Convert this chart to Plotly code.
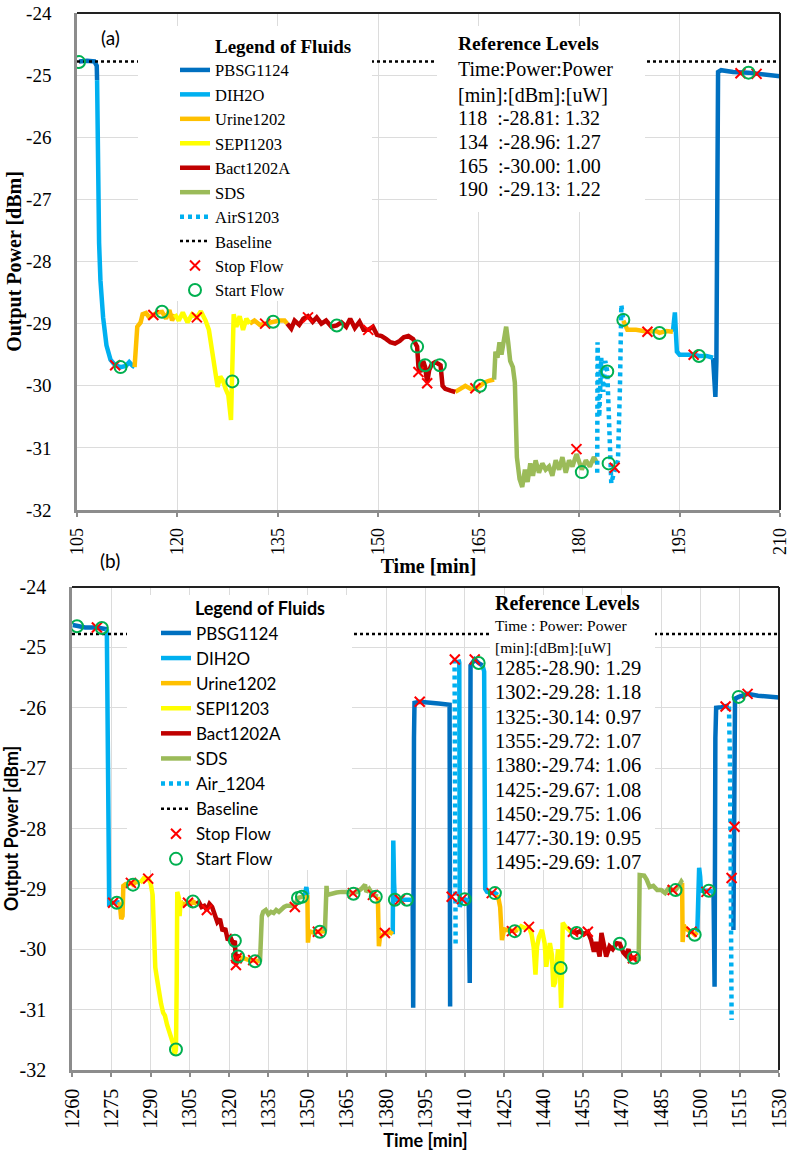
import plotly.graph_objects as go

W, H = 793, 1152


def px(x):
    return x / W


def py(y):
    return 1 - y / H


# ---------------- Panel (a) data : time [min] / output power [dBm] ----------------
a_pbsg_t = [105.3, 106.5, 107.6, 107.95, 108.0, None,
            200.0, 200.2, 200.35, 200.5, 200.6, 200.75, 201.2, 203.0, 205.3, 207.0, 210.0]
a_pbsg_v = [-24.78, -24.77, -24.78, -24.85, -25.08, None,
            -29.55, -29.9, -30.18, -29.6, -27.0, -24.95, -24.92, -24.95, -24.96, -24.98, -25.02]

a_dih2o_t = [108.0, 108.1, 108.3, 108.5, 108.9, 109.4, 110.0, 110.7, 111.5, 112.3, 112.8, 113.3, 113.6, None,
             194.0, 194.3, 194.6, 195.0, 196.0, 197.1, 197.9, 199.0, 200.0]
a_dih2o_v = [-25.08, -26.5, -27.7, -28.3, -28.9, -29.35, -29.58, -29.67, -29.7, -29.68, -29.62, -29.68, -29.7, None,
             -29.13, -28.82, -29.45, -29.5, -29.5, -29.5, -29.52, -29.52, -29.55]

a_urine_t = [113.6, 113.8, 114.0, 114.5, 114.8, 115.3, 115.8, 116.4, 117.0, 117.7, 118.3, 118.8, 119.2, 119.6, None,
             130.8, 131.5, 132.3, 133.1, 134.3, 135.2, 136.0, 136.4, None,
             161.5, 162.2, 163.0, 163.8, 164.5, 165.2, 165.8, 166.5, 167.3, None,
             186.6, 187.2, 188.5, 190.2, 191.5, 192.0, 193.0, 194.0]
a_urine_v = [-29.7, -29.3, -29.05, -28.98, -28.85, -28.83, -28.9, -28.86, -28.82, -28.81, -28.92, -28.78, -28.95, -28.85, None,
             -29.0, -28.95, -29.02, -29.0, -28.97, -28.95, -28.95, -29.0, None,
             -30.1, -30.05, -30.0, -30.05, -30.04, -30.0, -29.95, -29.92, -29.9, None,
             -28.95, -29.1, -29.1, -29.13, -29.12, -29.15, -29.12, -29.13]

a_sepi_t = [119.6, 120.2, 120.8, 121.5, 122.2, 122.9, 123.5, 124.2, 124.7, 125.2, 125.6, 126.0, 126.4, 126.8,
            127.2, 127.6, 128.0, 128.2, 128.4, 128.8, 129.3, 129.8, 130.3, 130.8]
a_sepi_v = [-28.85, -28.95, -28.82, -28.98, -28.85, -28.9, -28.8, -28.95, -29.1, -29.5, -29.75, -30.02, -29.85, -29.92,
            -30.05, -30.15, -30.55, -29.9, -28.85, -29.05, -28.88, -29.1, -28.92, -29.0]

a_bact_t = [136.4, 137.0, 137.5, 138.2, 138.8, 139.5, 140.2, 140.8, 141.5, 142.2, 143.0, 143.8, 144.5, 145.2,
            145.8, 146.5, 147.2, 147.8, 148.5, 149.2, 149.8, 150.5, 151.2, 151.8, 152.5, 153.2, 153.8, 154.5,
            155.2, 155.8, 156.0, 156.3, 156.7, 157.0, 157.3, 157.6, 158.0, 158.5, 159.0, 159.3, 159.6, 160.0,
            160.8, 161.5]
a_bact_v = [-29.0, -29.08, -28.95, -29.02, -28.92, -28.88, -28.97, -28.9, -29.0, -28.95, -29.05, -29.03, -28.98, -29.05,
            -28.92, -29.07, -28.97, -29.1, -29.1, -29.05, -29.18, -29.2, -29.25, -29.3, -29.32, -29.28, -29.22, -29.2,
            -29.25, -29.37, -29.7, -29.78, -29.6, -29.7, -29.95, -29.75, -29.65, -29.62, -29.65, -29.67, -30.0, -30.05,
            -30.08, -30.1]

a_sds_t = [167.3, 167.5, 167.8, 168.1, 168.4, 168.8, 169.1, 169.4, 169.7, 170.1, 170.4, 170.7, 171.1, 171.5,
           171.9, 172.3, 172.7, 173.1, 173.5, 174.0, 174.5, 175.0, 175.5, 176.0, 176.5, 177.0, 177.5, 178.0,
           178.5, 179.0, 179.6, 180.4, 181.0, 181.6, 182.2, 182.7]
a_sds_v = [-29.9, -29.45, -29.55, -29.3, -29.5, -29.25, -29.05, -29.3, -29.6, -29.7, -29.95, -31.15, -31.5, -31.63,
           -31.35, -31.55, -31.25, -31.45, -31.2, -31.4, -31.25, -31.35, -31.3, -31.45, -31.2, -31.35, -31.15, -31.4,
           -31.2, -31.3, -31.1, -31.35, -31.2, -31.3, -31.15, -31.25]

a_air_t = [182.7, 182.75, 183.0, 183.3, 183.6, 183.9, 184.2, 184.5, 184.8, 185.2, 185.8, 186.1, 186.3, 186.6]
a_air_v = [-31.4, -29.3, -30.5, -29.55, -30.1, -29.6, -29.77, -30.8, -31.57, -31.4, -31.2, -30.0, -28.7, -28.94]

a_stop_t = [110.7, 116.4, 122.9, 133.1, 139.5, 148.5, 156.0, 157.3, 164.5, 179.6, 185.3, 190.2, 197.1, 204.1, 206.5]
a_stop_v = [-29.67, -28.86, -28.9, -29.0, -28.9, -29.1, -29.78, -29.96, -30.04, -31.02, -31.32, -29.13, -29.5,
            -24.97, -24.98]
a_start_t = [105.3, 111.5, 117.7, 128.2, 134.3, 143.8, 155.8, 157.0, 159.2, 165.2, 180.4, 184.2, 184.4, 186.6,
             192.0, 197.9, 205.3]
a_start_v = [-24.79, -29.70, -28.81, -29.93, -28.97, -29.03, -29.37, -29.67, -29.67, -30.0, -31.39, -29.77, -31.25,
             -28.94, -29.15, -29.52, -24.96]

a_ref_time = [118, 134, 165, 190]
a_ref_dbm = [-28.81, -28.96, -30.00, -29.13]
a_ref_uw = [1.32, 1.27, 1.00, 1.22]

# ---------------- Panel (b) data ----------------
b_pbsg_t = [1260.3, 1262.0, 1265.0, 1269.5, 1271.4, 1273.3, None,
            1390.1, 1390.3, 1390.6, 1390.8, 1392.8, 1396.0, 1400.0, 1404.2, 1404.4, None,
            1411.5, 1411.9, 1412.2, 1413.8, 1415.3, 1416.8, None,
            1505.0, 1505.4, 1505.7, 1506.0, 1508.0, 1509.6, 1510.8, None,
            1512.6, 1512.8, 1513.2, 1514.6, 1516.0, 1518.0, 1522.0, 1526.0, 1530.0]
b_pbsg_v = [-24.63, -24.65, -24.67, -24.67, -24.68, -24.7, None,
            -29.18, -30.97, -26.5, -25.92, -25.9, -25.92, -25.93, -25.95, -30.95, None,
            -29.2, -30.56, -25.3, -25.2, -25.26, -25.3, None,
            -29.05, -30.62, -26.5, -26.0, -25.99, -25.98, -25.96, None,
            -29.68, -28.0, -25.85, -25.82, -25.8, -25.77, -25.8, -25.81, -25.83]

b_dih2o_t = [1273.3, 1273.5, 1273.8, 1274.2, 1275.7, 1277.1, 1278.2, None,
             1348.8, 1349.5, 1349.9, None,
             1382.5, 1382.7, 1383.0, 1383.3, 1385.0, 1387.9, 1389.5, 1390.1, None,
             1407.6, 1407.9, 1408.1, 1408.9, 1410.0, 1411.5, None,
             1416.8, 1417.4, 1417.8, 1418.5, 1420.3, 1421.5, 1422.6, None,
             1498.8, 1499.2, 1499.5, 1499.9, 1500.2, 1501.5, 1503.2, 1505.0]
b_dih2o_v = [-24.7, -26.5, -29.0, -29.25, -29.23, -29.23, -29.22, None,
             -29.12, -28.97, -29.1, None,
             -29.75, -28.2, -28.9, -29.18, -29.18, -29.18, -29.18, -29.18, None,
             -25.2, -25.25, -29.3, -29.17, -29.17, -29.2, None,
             -25.3, -25.4, -29.0, -29.05, -29.07, -29.07, -29.1, None,
             -29.72, -29.3, -28.65, -28.8, -29.03, -29.03, -29.03, -29.05]

b_urine_t = [1278.2, 1278.8, 1279.3, 1279.6, 1280.5, 1282.5, 1283.3, 1284.5, 1286.0, None,
             1301.5, 1302.0, 1303.0, 1304.3, 1306.2, 1307.7, None,
             1324.0, 1325.0, 1327.0, 1329.2, 1329.9, 1331.8, None,
             1349.9, 1350.1, 1350.6, 1352.0, 1353.9, 1354.7, 1356.6, None,
             1376.8, 1377.2, 1377.6, 1379.5, 1381.5, 1382.5, None,
             1422.6, 1423.5, 1424.2, 1424.6, 1425.0, 1426.0, 1428.0, 1429.1, 1430.2, None,
             1475.8, 1476.4, None,
             1493.0, 1493.2, 1493.6, 1494.2, 1495.5, 1496.6, 1497.8, 1498.8]
b_urine_v = [-29.22, -29.5, -29.45, -28.95, -28.92, -28.9, -28.93, -28.88, -28.9, None,
             -29.2, -29.25, -29.25, -29.23, -29.21, -29.25, None,
             -30.15, -30.14, -30.17, -30.18, -30.2, -30.2, None,
             -29.1, -29.89, -29.7, -29.72, -29.71, -29.71, -29.7, None,
             -29.13, -29.95, -29.8, -29.73, -29.72, -29.75, None,
             -29.1, -29.3, -29.85, -29.7, -29.67, -29.68, -29.7, -29.7, -29.68, None,
             -30.18, -30.2, None,
             -28.9, -29.88, -29.6, -29.65, -29.69, -29.71, -29.76, -29.72]

b_sepi_t = [1286.0, 1287.5, 1289.1, 1290.0, 1290.8, 1291.3, 1291.8, 1292.5, 1293.2, 1294.0, 1294.8, 1295.5,
            1296.3, 1297.0, 1297.8, 1298.5, 1299.2, 1299.7, 1300.0, 1300.2, 1300.8, 1301.1, 1301.5, None,
            1430.2, 1431.5, 1433.0, 1434.5, 1435.5, 1436.3, 1437.0, 1437.6, 1438.3, 1439.5, 1440.5, 1441.1,
            1441.8, 1442.5, 1443.3, 1443.8, 1444.5, 1445.0, 1445.6, 1446.3, 1446.8, 1447.1, 1447.4, 1448.3,
            1449.5, 1450.8]
b_sepi_v = [-28.9, -28.82, -28.83, -28.9, -29.1, -29.7, -30.3, -30.5, -30.75, -30.9, -31.05, -31.1,
            -31.25, -31.35, -31.45, -31.55, -31.75, -31.66, -30.5, -29.05, -29.15, -29.45, -29.2, None,
            -29.68, -29.62, -29.65, -29.63, -29.75, -29.96, -30.42, -29.95, -29.8, -29.68, -29.9, -30.29,
            -30.1, -29.9, -30.1, -30.62, -30.55, -30.2, -30.0, -30.3, -30.97, -30.5, -29.56, -29.62,
            -29.68, -29.72]

b_bact_t = [1307.7, 1308.5, 1309.5, 1310.5, 1311.5, 1312.5, 1313.5, 1314.5, 1315.5, 1316.5, 1317.5, 1318.5,
            1319.5, 1320.5, 1321.5, 1322.2, 1322.6, 1323.0, 1323.4, 1324.0, None,
            1450.8, 1451.3, 1452.7, 1454.0, 1455.5, 1457.0, 1458.2, 1459.3, 1460.2, 1461.5, 1462.2, 1463.2,
            1464.0, 1465.3, 1466.5, 1468.0, 1469.2, 1470.5, 1471.5, 1472.5, 1473.5, 1474.5, 1475.8]
b_bact_v = [-29.25, -29.22, -29.3, -29.28, -29.35, -29.25, -29.3, -29.45, -29.55, -29.5, -29.7, -29.65,
            -29.85, -29.8, -29.9, -29.86, -30.26, -30.1, -30.12, -30.15, None,
            -29.72, -29.71, -29.73, -29.7, -29.75, -29.71, -29.84, -30.04, -29.88, -30.12, -29.73, -29.95,
            -30.12, -29.95, -30.0, -29.9, -29.91, -30.05, -30.1, -30.0, -30.15, -30.14, -30.18]

b_sds_t = [1331.8, 1332.1, 1332.5, 1333.0, 1334.0, 1335.0, 1336.0, 1337.0, 1338.0, 1339.0, 1340.0, 1341.0,
           1342.0, 1343.0, 1344.4, 1345.1, 1346.3, 1347.8, 1348.8, None,
           1356.6, 1357.0, 1357.2, 1357.5, 1359.0, 1361.0, 1363.0, 1365.0, 1367.3, 1369.0, 1370.5, 1371.9,
           1372.4, 1373.5, 1374.9, 1376.0, 1376.8, None,
           1476.4, 1476.6, 1476.8, 1478.5, 1479.5, 1480.6, 1482.0, 1483.5, 1485.0, 1486.5, 1488.0, 1489.4,
           1490.5, 1491.8, 1492.7, 1493.0]
b_sds_v = [-30.2, -29.8, -29.45, -29.38, -29.35, -29.42, -29.38, -29.4, -29.35, -29.38, -29.33, -29.3,
           -29.28, -29.28, -29.27, -29.28, -29.15, -29.13, -29.12, None,
           -29.7, -29.3, -28.95, -29.1, -29.08, -29.06, -29.05, -29.05, -29.07, -29.05, -29.0, -28.93,
           -29.05, -29.0, -29.1, -29.13, -29.13, None,
           -30.2, -29.2, -28.77, -28.78, -28.85, -28.97, -28.95, -29.02, -29.02, -29.07, -28.98, -29.02,
           -29.02, -28.95, -28.88, -28.9]

b_air_t = [1406.1, 1406.3, 1406.5, None, 1510.9, 1511.3, 1511.6, 1511.9]
b_air_v = [-25.2, -27.5, -29.96, None, -25.98, -27.0, -29.0, -31.17]

b_stop_t = [1269.5, 1275.7, 1282.5, 1289.1, 1304.3, 1311.5, 1322.6, 1322.9, 1329.2, 1345.1, 1353.9, 1367.3,
            1374.9, 1379.5, 1385.2, 1392.8, 1405.0, 1406.2, 1408.9, 1413.8, 1420.3, 1428.0, 1434.5, 1451.3,
            1457.0, 1474.2, 1489.4, 1496.6, 1502.3, 1509.6, 1511.9, 1513.0, 1518.0]
b_stop_v = [-24.67, -29.23, -28.9, -28.83, -29.23, -29.35, -30.26, -30.15, -30.18, -29.3, -29.71, -29.07,
            -29.1, -29.73, -29.18, -25.9, -29.13, -25.2, -29.17, -25.2, -29.07, -29.7, -29.63, -29.71,
            -29.71, -30.15, -29.02, -29.71, -29.05, -25.98, -28.82, -27.97, -25.77]
b_start_t = [1261.9, 1271.4, 1277.1, 1283.3, 1299.7, 1306.2, 1322.2, 1323.4, 1329.9, 1346.3, 1347.8, 1354.7,
             1367.5, 1376.0, 1383.3, 1387.9, 1410.0, 1415.3, 1421.5, 1429.1, 1446.6, 1452.7, 1469.2, 1474.5,
             1490.5, 1497.8, 1503.2, 1514.6]
b_start_v = [-24.65, -24.68, -29.23, -28.93, -31.66, -29.21, -29.86, -30.12, -30.2, -29.15, -29.13, -29.71,
             -29.08, -29.13, -29.18, -29.18, -29.17, -25.26, -29.07, -29.7, -30.31, -29.73, -29.91, -30.14,
             -29.02, -29.76, -29.03, -25.82]

b_ref_time = [1285, 1302, 1325, 1355, 1380, 1425, 1450, 1477, 1495]
b_ref_dbm = [-28.90, -29.28, -30.14, -29.72, -29.74, -29.67, -29.75, -30.19, -29.69]
b_ref_uw = [1.29, 1.18, 0.97, 1.07, 1.06, 1.08, 1.06, 0.95, 1.07]

baseline_dbm = -24.78
a_range = [105, 210]
b_range = [1260, 1530]

# tick labels
y_tick_vals = [-32, -31, -30, -29, -28, -27, -26, -25, -24]
y_tick_text = ["-32", "-31", "-30", "-29", "-28", "-27", "-26", "-25", "-24"]
a_x_ticks = [105, 120, 135, 150, 165, 180, 195, 210]
b_x_ticks = [1260, 1275, 1290, 1305, 1320, 1335, 1350, 1365, 1380, 1395, 1410, 1425, 1440, 1455, 1470,
             1485, 1500, 1515, 1530]

# ---------------- styles ----------------
fluid_colors = ["#0070C0", "#00B0F0", "#FFC000", "#FFFF00", "#C00000", "#9BBB59", "#00B0F0"]
names_a = ["PBSG1124", "DIH2O", "Urine1202", "SEPI1203", "Bact1202A", "SDS", "AirS1203"]
names_b = ["PBSG1124", "DIH2O", "Urine1202", "SEPI1203", "Bact1202A", "SDS", "Air_1204"]
SERIF = "Liberation Serif"
SANS = "Lato"

series_a = [(a_pbsg_t, a_pbsg_v), (a_dih2o_t, a_dih2o_v), (a_urine_t, a_urine_v), (a_sepi_t, a_sepi_v),
            (a_bact_t, a_bact_v), (a_sds_t, a_sds_v), (a_air_t, a_air_v)]
series_b = [(b_pbsg_t, b_pbsg_v), (b_dih2o_t, b_dih2o_v), (b_urine_t, b_urine_v), (b_sepi_t, b_sepi_v),
            (b_bact_t, b_bact_v), (b_sds_t, b_sds_v), (b_air_t, b_air_v)]

fig = go.Figure()


def add_panel(series, names, stop_t, stop_v, start_t, start_v, xr, xa, ya, leg):
    for i, ((t, v), name) in enumerate(zip(series, names)):
        is_air = i == 6
        fig.add_trace(go.Scatter(
            x=t, y=v, name=name, mode="lines", xaxis=xa, yaxis=ya, legend=leg,
            line=dict(color=fluid_colors[i], width=4.5, dash="4px,4px" if is_air else "solid"),
            connectgaps=False))
    fig.add_trace(go.Scatter(
        x=xr, y=[baseline_dbm, baseline_dbm], name="Baseline", mode="lines", xaxis=xa, yaxis=ya, legend=leg,
        line=dict(color="black", width=2.5, dash="3px,3px")))
    fig.add_trace(go.Scatter(
        x=stop_t, y=stop_v, name="Stop Flow", mode="markers", xaxis=xa, yaxis=ya, legend=leg,
        marker=dict(symbol="x-thin", size=10, color="#FF0000", line=dict(color="#FF0000", width=2))))
    fig.add_trace(go.Scatter(
        x=start_t, y=start_v, name="Start Flow", mode="markers", xaxis=xa, yaxis=ya, legend=leg,
        marker=dict(symbol="circle-open", size=12, color="#00B050", line=dict(color="#00B050", width=2))))


add_panel(series_a, names_a, a_stop_t, a_stop_v, a_start_t, a_start_v, a_range, "x", "y", "legend")
add_panel(series_b, names_b, b_stop_t, b_stop_v, b_start_t, b_start_v, b_range, "x2", "y2", "legend2")

GRID = "#DCDCDC"
AXC = "#8C8C8C"


def xaxis_style(dom, rng, ticks, font_fam, size, title, tfam, tsize, anchor, standoff_lbl):
    return dict(domain=dom, range=rng, tickmode="array", tickvals=ticks, ticktext=[str(t) for t in ticks],
                tickangle=-90, anchor=anchor, automargin=False, ticklabeloverflow="allow",
                tickfont=dict(family=font_fam, size=size, color="black"),
                showgrid=True, gridcolor=GRID, gridwidth=1, zeroline=False,
                showline=True, linecolor=AXC, linewidth=2.5, ticks="outside", ticklen=4, tickcolor=AXC,
                tickwidth=1.5, ticklabelstandoff=standoff_lbl,
                title=dict(text=title, font=dict(family=tfam, size=tsize, color="black"), standoff=0))


def yaxis_style(dom, font_fam, size, title, tfam, tsize, anchor, lbl_standoff, t_standoff):
    return dict(domain=dom, range=[-32, -24], tickmode="array", tickvals=y_tick_vals, ticktext=y_tick_text,
                anchor=anchor, automargin=False, ticklabeloverflow="allow",
                tickfont=dict(family=font_fam, size=size, color="black"),
                showgrid=True, gridcolor=GRID, gridwidth=1, zeroline=False,
                showline=True, linecolor=AXC, linewidth=2.5, ticks="", ticklabelstandoff=lbl_standoff,
                title=dict(text=title, font=dict(family=tfam, size=tsize, color="black"), standoff=t_standoff))


fig.update_layout(
    width=W, height=H, margin=dict(l=0, r=0, t=0, b=0, autoexpand=False),
    paper_bgcolor="white", plot_bgcolor="white",
    xaxis=xaxis_style([px(77), px(780)], a_range, a_x_ticks, SERIF, 18, "<b>Time [min]</b>", SERIF, 20, "y", 4),
    yaxis=yaxis_style([py(510), py(13)], SERIF, 19, "<b>Output Power [dBm]</b>", SERIF, 20, "x", 19, 0),
    xaxis2=xaxis_style([px(72), px(779)], b_range, b_x_ticks, SERIF, 20, "<b>Time [min]</b>", SANS, 18, "y2", 4),
    yaxis2=yaxis_style([py(1070), py(587)], SERIF, 20, "<b>Output Power [dBm]</b>", SANS, 18, "x2", 19, 0),
    legend=dict(x=px(175), y=py(28), xanchor="left", yanchor="top", bgcolor="rgba(0,0,0,0)",
                font=dict(family=SERIF, size=16.5, color="black"), tracegroupgap=0,
                title=dict(text="\u00a0" * 8 + "<b>Legend of Fluids</b>", side="top",
                           font=dict(family=SERIF, size=19, color="black"))),
    legend2=dict(x=px(156), y=py(592), xanchor="left", yanchor="top", bgcolor="rgba(0,0,0,0)",
                 font=dict(family=SANS, size=17, color="black"), tracegroupgap=0,
                 title=dict(text="\u00a0" * 8 + "<b>Legend of Fluids</b>", side="top",
                            font=dict(family=SANS, size=18, color="black"))),
)

shapes = []
# white boxes behind legends / reference texts (window pixel coordinates)
for (x0, y0, x1, y1) in [(138, 26, 372, 301), (437, 26, 645, 212), (127, 595, 352, 870), (490, 595, 655, 870)]:
    shapes.append(dict(type="rect", xref="paper", yref="paper", x0=px(x0), x1=px(x1), y0=py(y1), y1=py(y0),
                       fillcolor="white", line=dict(width=0), layer="above"))
# black top/right frame of each plot area
for xa, ya in [("x", "y"), ("x2", "y2")]:
    shapes.append(dict(type="line", xref=xa + " domain", yref=ya + " domain", x0=0, x1=1, y0=1, y1=1,
                       line=dict(color="#222222", width=2), layer="above"))
    shapes.append(dict(type="line", xref=xa + " domain", yref=ya + " domain", x0=1, x1=1, y0=0, y1=1,
                       line=dict(color="#222222", width=2), layer="above"))
fig.update_layout(shapes=shapes)

ann = []
ann.append(dict(text="(a)", x=px(110), y=py(37), xref="paper", yref="paper", showarrow=False,
                xanchor="center", yanchor="middle", font=dict(family=SANS, size=19, color="black")))
ann.append(dict(text="(b)", x=px(110), y=py(560), xref="paper", yref="paper", showarrow=False,
                xanchor="center", yanchor="middle", font=dict(family=SANS, size=19, color="black")))

# Reference levels (a)
ref_a_lines = [("<b>Reference Levels</b>", 19.5, 44), ("Time:Power:Power", 20, 68.5), ("[min]:[dBm]:[uW]", 20, 95)]
for k, (t, d, u) in enumerate(zip(a_ref_time, a_ref_dbm, a_ref_uw)):
    ref_a_lines.append((f"{t}\u00a0\u00a0:{d:.2f}: {u:.2f}", 20, 118 + 23.8 * k))
for txt, sz, yc in ref_a_lines:
    ann.append(dict(text=txt, x=px(456), y=py(yc), xref="paper", yref="paper", xanchor="left", yanchor="middle",
                    showarrow=False, font=dict(family=SERIF, size=sz, color="black")))

# Reference levels (b)
ref_b_lines = [("<b>Reference Levels</b>", 20, 603), ("Time : Power: Power", 15.5, 625),
               ("[min]:[dBm]:[uW]", 15.5, 647)]
for k, (t, d, u) in enumerate(zip(b_ref_time, b_ref_dbm, b_ref_uw)):
    ref_b_lines.append((f"{t}:{d:.2f}: {u:.2f}", 20.5, 668 + 24.3 * k))
for txt, sz, yc in ref_b_lines:
    ann.append(dict(text=txt, x=px(493), y=py(yc), xref="paper", yref="paper", xanchor="left", yanchor="middle",
                    showarrow=False, font=dict(family=SERIF, size=sz, color="black")))
fig.update_layout(annotations=ann)

# remove the default 8px page margin so the 793x1152 figure fills the window exactly
fig.write_html("out.html", config={"displayModeBar": False},
               post_script="document.body.style.margin='0px';")
